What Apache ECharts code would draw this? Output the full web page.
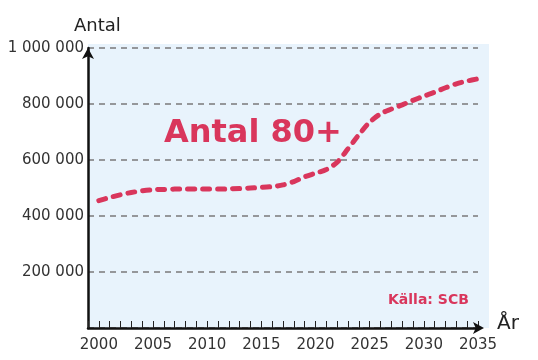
<!DOCTYPE html>
<html>
<head>
<meta charset="utf-8">
<script src="https://cdn.jsdelivr.net/npm/echarts@6/dist/echarts.min.js"></script>
<style>html,body{margin:0;padding:0;background:#fff}#c{width:538px;height:360px}</style>
</head>
<body>
<div id="c"></div>
<script>
const years = [2000,2001,2002,2003,2004,2005,2006,2007,2008,2009,2010,2011,2012,2013,2014,2015,2016,2017,2018,2019,2020,2021,2022,2023,2024,2025,2026,2027,2028,2029,2030,2031,2032,2033,2034,2035];
const antal80 = [455000,466000,476000,484000,490000,494000,495000,496000,496000,496000,496000,496000,497000,498000,500000,502000,505000,511000,523000,540000,553000,566000,592000,640000,690000,735000,765000,782000,797000,813000,828000,842000,858000,872000,882000,890000];
const yTicks = [0,200000,400000,600000,800000,1000000];
const xLabelStep = 5;

const fontFam = '"Comic Sans MS","DejaVu Sans",sans-serif';
const red = '#d9365c';
const chart = echarts.init(document.getElementById('c'));
chart.setOption({
  animation: false,
  grid: {left: 88, right: 60, top: 48, bottom: 32},
  graphic: [
    {type: 'rect', z: -10, shape: {x: 88, y: 44, width: 401, height: 284}, style: {fill: '#e8f3fc'}},
    {type: 'text', left: 74, top: 17, style: {text: 'Antal', font: '18px ' + fontFam, fill: '#222'}},
    {type: 'text', left: 497, top: 314, style: {text: 'År', font: '20px ' + fontFam, fill: '#222'}},
    {type: 'text', left: 164, top: 118, style: {text: 'Antal 80+', font: 'bold 32px ' + fontFam, fill: red}},
    {type: 'text', left: 388, top: 293, style: {text: 'Källa: SCB', font: 'bold 14px ' + fontFam, fill: red}}
  ],
  xAxis: {
    type: 'value', min: 1999, max: 2035, interval: 1,
    axisLine: {show: true, lineStyle: {color: '#111', width: 2.5}, symbol: ['none', 'arrow'], symbolSize: [9, 11], symbolOffset: [0, 6]},
    axisTick: {show: true, inside: true, length: 7, lineStyle: {color: '#222', width: 1}},
    splitLine: {show: false},
    axisLabel: {
      color: '#333', fontSize: 15, fontFamily: fontFam, margin: 10,
      formatter: v => (v % xLabelStep === 0 ? String(v) : '')
    }
  },
  yAxis: {
    type: 'value', min: yTicks[0], max: yTicks[yTicks.length - 1], interval: yTicks[1] - yTicks[0],
    axisLine: {show: true, lineStyle: {color: '#111', width: 2.5}, symbol: ['none', 'arrow'], symbolSize: [9, 11]},
    axisTick: {show: false},
    splitLine: {show: true, lineStyle: {color: '#7a7a7a', width: 1.5, type: [6, 5]}},
    axisLabel: {
      color: '#333', fontSize: 15, fontFamily: fontFam, margin: 4,
      formatter: v => v === 0 ? '' : String(v).replace(/\B(?=(\d{3})+(?!\d))/g, ' ')
    }
  },
  series: [{
    type: 'line',
    data: years.map((y, i) => [y, antal80[i]]),
    smooth: 0.3,
    symbol: 'none',
    lineStyle: {color: red, width: 5, type: [7, 8], cap: 'round'}
  }]
});
</script>
</body>
</html>
